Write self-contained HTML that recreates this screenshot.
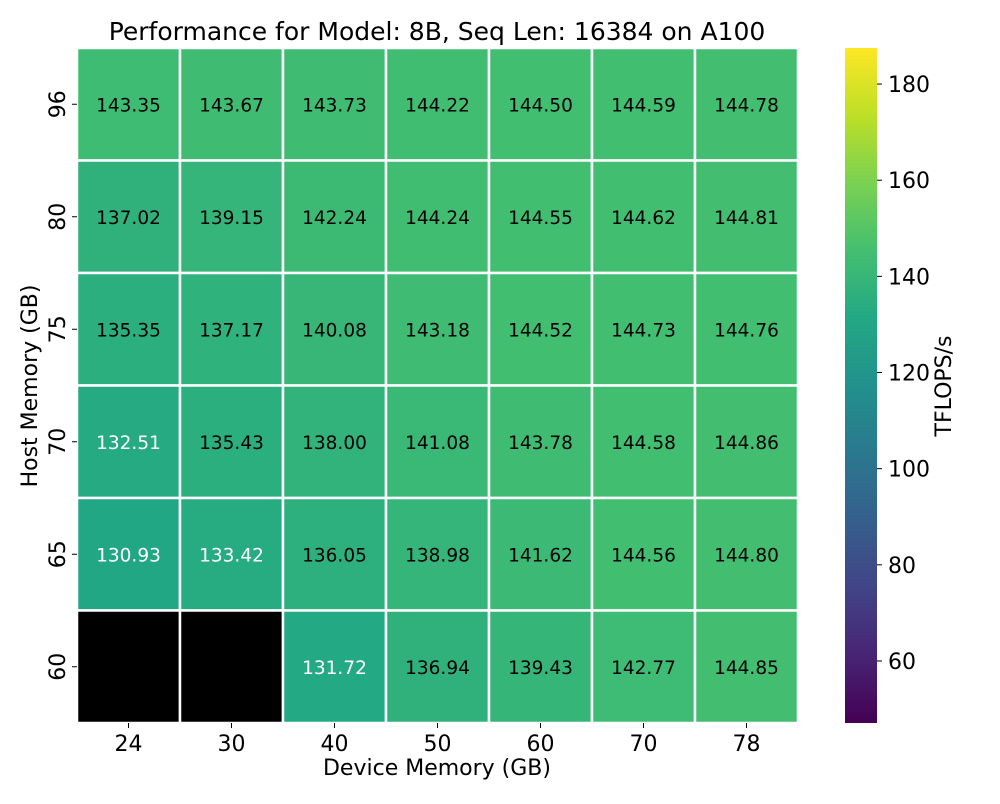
<!DOCTYPE html>
<html><head><meta charset="utf-8"><style>
body{margin:0;background:#fff;font-family:"DejaVu Sans",sans-serif}
</style></head><body>
<svg id="chart" width="1000" height="800" xmlns="http://www.w3.org/2000/svg" font-family="DejaVu Sans, sans-serif">
<defs><linearGradient id="vir" x1="0" y1="1" x2="0" y2="0">
<stop offset="0" stop-color="#440154"/><stop offset="0.1" stop-color="#482475"/><stop offset="0.2" stop-color="#414487"/><stop offset="0.3" stop-color="#355f8d"/><stop offset="0.4" stop-color="#2a788e"/><stop offset="0.5" stop-color="#21918c"/><stop offset="0.6" stop-color="#22a884"/><stop offset="0.7" stop-color="#44bf70"/><stop offset="0.8" stop-color="#7ad151"/><stop offset="0.9" stop-color="#bddf26"/><stop offset="1" stop-color="#fde725"/>
</linearGradient></defs>
<text x="437" y="40" font-size="25" text-anchor="middle">Performance for Model: 8B, Seq Len: 16384 on A100</text>
<g id="cells"></g>
<text x="437" y="775" font-size="22" text-anchor="middle">Device Memory (GB)</text>
<text transform="translate(37,386) rotate(-90)" font-size="22" text-anchor="middle">Host Memory (GB)</text>
<rect x="845" y="48" width="32" height="675" fill="url(#vir)"/>
<g id="cbticks"></g>
<text transform="translate(951,386) rotate(-90)" font-size="22" text-anchor="middle">TFLOPS/s</text>
</svg>
<script>
const cols=["24","30","40","50","60","70","78"];
const rows=["96","80","75","70","65","60"];
const values=[
[143.35,143.67,143.73,144.22,144.50,144.59,144.78],
[137.02,139.15,142.24,144.24,144.55,144.62,144.81],
[135.35,137.17,140.08,143.18,144.52,144.73,144.76],
[132.51,135.43,138.00,141.08,143.78,144.58,144.86],
[130.93,133.42,136.05,138.98,141.62,144.56,144.80],
[null,null,131.72,136.94,139.43,142.77,144.85]];
const cbTicks=[60,80,100,120,140,160,180];
const vmin=47.1,vmax=187.5;
const X0=77,X1=798,Y0=48,Y1=723;
const cw=(X1-X0)/cols.length,rh=(Y1-Y0)/rows.length;
const stops=["#440154","#482475","#414487","#355f8d","#2a788e","#21918c","#22a884","#44bf70","#7ad151","#bddf26","#fde725"];
function hex(h){return[1,3,5].map(i=>parseInt(h.substr(i,2),16));}
function vir(t){t=Math.max(0,Math.min(1,t))*10;const i=Math.min(9,Math.floor(t)),f=t-i;const a=hex(stops[i]),b=hex(stops[i+1]);return"rgb("+a.map((v,k)=>Math.round(v+(b[k]-v)*f)).join(",")+")";}
const ns="http://www.w3.org/2000/svg";
function mk(tag,attrs,parent){const e=document.createElementNS(ns,tag);for(const k in attrs)e.setAttribute(k,attrs[k]);parent.appendChild(e);return e;}
const g=document.getElementById('cells');
rows.forEach((r,ri)=>{cols.forEach((c,ci)=>{
 const v=values[ri][ci];
 const rc=mk('rect',{x:X0+ci*cw,y:Y0+ri*rh,width:cw,height:rh,fill:v==null?"#000":vir((v-vmin)/(vmax-vmin)),stroke:"#fff","stroke-width":2.5},g);
 
 
 if(v!=null){const t=mk('text',{x:X0+(ci+.5)*cw,y:Y0+(ri+.5)*rh+7,"font-size":18.5,"text-anchor":"middle",fill:v<134?"#fff":"#000"},g);t.textContent=v.toFixed(2);
 
 }
});});
cols.forEach((c,ci)=>{const x=X0+(ci+.5)*cw;mk('line',{x1:x,x2:x,y1:Y1,y2:Y1+5,stroke:"#000"},g);
 const t=mk('text',{x:x,y:Y1+28,"font-size":22,"text-anchor":"middle"},g);t.textContent=c;
 
 });
rows.forEach((r,ri)=>{const y=Y0+(ri+.5)*rh;mk('line',{x1:X0-5,x2:X0,y1:y,y2:y,stroke:"#000"},g);
 const t=mk('text',{transform:"translate("+(X0-12)+","+y+") rotate(-90)","font-size":22,"text-anchor":"middle"},g);t.textContent=r;
 
 });
const cb=document.getElementById('cbticks');
cbTicks.forEach(v=>{const y=Y1-(v-vmin)/(vmax-vmin)*(Y1-Y0);mk('line',{x1:877,x2:882,y1:y,y2:y,stroke:"#000"},cb);
 const t=mk('text',{x:888,y:y+8,"font-size":22},cb);t.textContent=v;
 
 });
</script>
</body></html>
